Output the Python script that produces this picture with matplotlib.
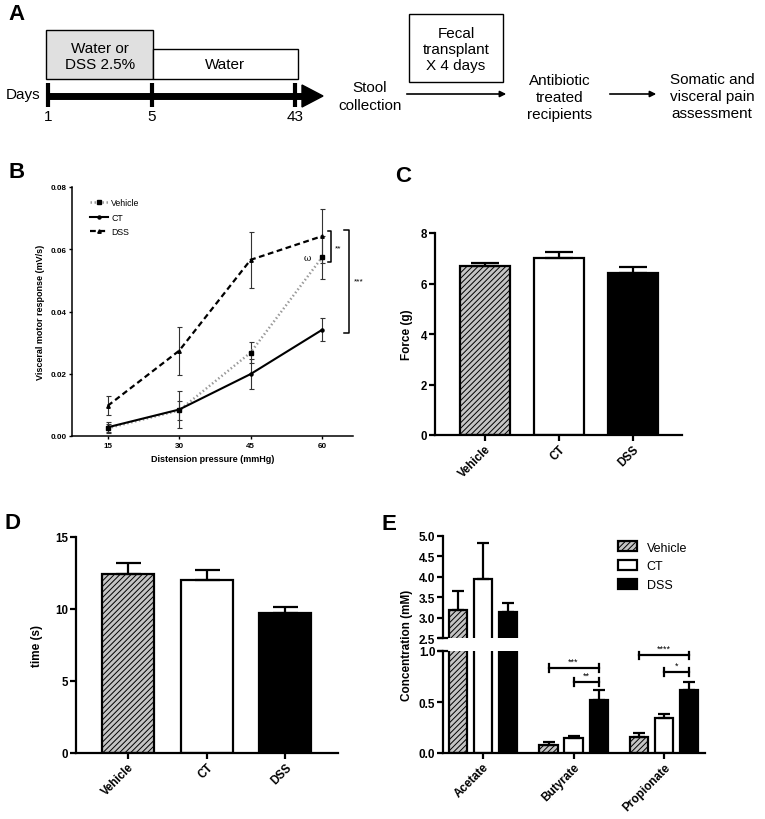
import numpy as np
import matplotlib
matplotlib.use('Agg')
import matplotlib.pyplot as plt
from matplotlib.patches import Rectangle, Polygon
from matplotlib.lines import Line2D
import matplotlib.transforms as mtransforms

plt.rcParams['font.family'] = ['Liberation Sans', 'DejaVu Sans']
plt.rcParams['hatch.linewidth'] = 0.7

# ---------------- data ----------------
pressure = [15, 30, 45, 60]
vmr_vehicle = [0.0025, 0.0082, 0.0268, 0.0574]
vmr_vehicle_sem = [0.0012, 0.0030, 0.0035, 0.0070]
vmr_ct = [0.0028, 0.0085, 0.0199, 0.0341]
vmr_ct_sem = [0.0018, 0.0060, 0.0048, 0.0037]
vmr_dss = [0.0097, 0.0274, 0.0566, 0.0642]
vmr_dss_sem = [0.0031, 0.0077, 0.0090, 0.0086]

groups = ['Vehicle', 'CT', 'DSS']
force = [6.68, 7.00, 6.42]
force_sem = [0.12, 0.26, 0.22]
time_s = [12.46, 11.98, 9.72]
time_sem = [0.76, 0.76, 0.39]

scfa = ['Acetate', 'Butyrate', 'Propionate']
conc_vehicle = [3.19, 0.079, 0.154]
conc_vehicle_sem = [0.47, 0.026, 0.043]
conc_ct = [3.94, 0.151, 0.344]
conc_ct_sem = [0.90, 0.020, 0.040]
conc_dss = [3.13, 0.520, 0.613]
conc_dss_sem = [0.24, 0.100, 0.082]

# significance annotations in E: (group, from_offset_idx, to_offset_idx, y, label)
sig_E = [(1, 0, 2, 0.833, '***'), (1, 1, 2, 0.696, '**'),
         (2, 0, 2, 0.960, '****'), (2, 1, 2, 0.794, '*')]

W, H = 765, 820
fig = plt.figure(figsize=(W / 100, H / 100), dpi=100)


def ax_px(l, t, r, b):
    return fig.add_axes([l / W, 1 - b / H, (r - l) / W, (b - t) / H])


LW = 1.6
fill_colors = ['#c4c4c4', 'white', 'black']
hatches = ['//////', None, None]


def style_axis(ax, fs):
    for s in ['top', 'right']:
        ax.spines[s].set_visible(False)
    for s in ['left', 'bottom']:
        ax.spines[s].set_linewidth(LW)
    ax.tick_params(direction='out', length=4, width=LW, labelsize=fs, pad=1.5)
    for lab in ax.get_xticklabels() + ax.get_yticklabels():
        lab.set_fontweight('bold')


# ---------------- overlay for panel A and letters ----------------
ov = fig.add_axes([0, 0, 1, 1])
ov.set_xlim(0, W)
ov.set_ylim(H, 0)
ov.axis('off')

for lab, (x, y) in {'A': (8, 14), 'B': (8, 173), 'C': (395, 176),
                    'D': (5, 524), 'E': (382, 525)}.items():
    ov.text(x, y, lab, fontsize=16, fontweight='bold', ha='left', va='center')

fsA = 11
ov.add_patch(Rectangle((46, 31), 107, 49, facecolor='#e0e0e0', edgecolor='black', lw=1))
ov.add_patch(Rectangle((153, 50), 145, 30, facecolor='white', edgecolor='black', lw=1))
ov.text(100, 57, 'Water or\nDSS 2.5%', ha='center', va='center', fontsize=fsA, linespacing=1.25)
ov.text(225, 65, 'Water', ha='center', va='center', fontsize=fsA)
ov.plot([47, 304], [97, 97], color='black', lw=5, solid_capstyle='butt')
ov.add_patch(Polygon([(302, 86), (323, 97), (302, 108)], closed=True, facecolor='black', edgecolor='black'))
day_ticks = ['1', '5', '43']
day_x = [48, 152, 295]
for lab, x in zip(day_ticks, day_x):
    ov.plot([x, x], [84, 108], color='black', lw=3, solid_capstyle='butt')
    ov.text(x, 117, lab, ha='center', va='center', fontsize=fsA)
ov.text(40, 95, 'Days', ha='right', va='center', fontsize=fsA)
ov.text(370, 97, 'Stool\ncollection', ha='center', va='center', fontsize=fsA, linespacing=1.3)
ov.add_patch(Rectangle((409, 15), 94, 68, facecolor='white', edgecolor='black', lw=1))
ov.text(456, 50, 'Fecal\ntransplant\nX 4 days', ha='center', va='center', fontsize=fsA, linespacing=1.2)
ov.annotate('', xy=(509, 95), xytext=(404, 95),
            arrowprops=dict(arrowstyle='-|>', color='black', lw=1.2, mutation_scale=9))
ov.text(560, 98, 'Antibiotic\ntreated\nrecipients', ha='center', va='center', fontsize=fsA, linespacing=1.3)
ov.annotate('', xy=(659, 95), xytext=(607, 95),
            arrowprops=dict(arrowstyle='-|>', color='black', lw=1.2, mutation_scale=9))
ov.text(712, 97, 'Somatic and\nvisceral pain\nassessment', ha='center', va='center', fontsize=fsA, linespacing=1.3)

# ---------------- panel B ----------------
axB = ax_px(72, 188, 353, 437)
ekw = dict(capsize=1.8, elinewidth=0.8, capthick=0.8, ecolor='#333333')
axB.errorbar(pressure, vmr_dss, yerr=vmr_dss_sem, color='black', lw=1.6,
             ls=(0, (2.6, 1.6)), marker='^', ms=2.5, **ekw)
axB.errorbar(pressure, vmr_vehicle, yerr=vmr_vehicle_sem, color='#9a9a9a', lw=1.8,
             ls=(0, (0.6, 1.0)), marker='s', ms=3.2, mfc='black', mec='black', **ekw)
axB.errorbar(pressure, vmr_ct, yerr=vmr_ct_sem, color='black', lw=1.5,
             ls='-', marker='o', ms=2.2, **ekw)
axB.set_xlim(7.5, 66.5)
axB.set_ylim(0, 0.08)
axB.set_xticks(pressure)
axB.set_yticks([0, 0.02, 0.04, 0.06, 0.08])
axB.set_yticklabels(['0.00', '0.02', '0.04', '0.06', '0.08'])
for s in ['top', 'right']:
    axB.spines[s].set_visible(False)
for s in ['left', 'bottom']:
    axB.spines[s].set_linewidth(1.1)
axB.tick_params(direction='out', length=2.5, width=1, labelsize=5.8, pad=1.5)
for lab in axB.get_xticklabels() + axB.get_yticklabels():
    lab.set_fontweight('bold')
axB.set_ylabel('Visceral motor response (mV/s)', fontsize=6.5, fontweight='bold', labelpad=4)
axB.set_xlabel('Distension pressure (mmHg)', fontsize=6.5, fontweight='bold', labelpad=4)
# brackets
for (x0, x1, y0, y1) in [(61.2, 61.9, 0.0558, 0.0660), (64.6, 65.6, 0.0330, 0.0662)]:
    axB.plot([x0, x1, x1, x0], [y0, y0, y1, y1], color='black', lw=1.1, clip_on=False)
axB.text(62.6, 0.0605, '**', fontsize=6, ha='left', va='center', clip_on=False)
axB.text(66.6, 0.0497, '***', fontsize=6, ha='left', va='center', clip_on=False)
axB.text(57.6, 0.0573, 'ω', fontsize=6.5, family='DejaVu Serif', ha='right', va='center')
hB = [Line2D([], [], color='#9a9a9a', lw=1.8, ls=(0, (0.6, 1.0)), marker='s', ms=3.2, mfc='black', mec='black'),
      Line2D([], [], color='black', lw=1.5, marker='o', ms=2.2),
      Line2D([], [], color='black', lw=1.6, ls=(0, (2.6, 1.6)), marker='^', ms=2.5)]
fig.legend(hB, groups, loc='upper left', bbox_to_anchor=(90 / W, 1 - 199 / H), frameon=False,
           fontsize=6.3, handlelength=2.0, labelspacing=0.65, handletextpad=0.4, borderpad=0, borderaxespad=0)

# ---------------- bar panels C, D ----------------
def bar_panel(ax, vals, sems, width, capsize, fs):
    x = np.arange(len(vals))
    for i in range(len(vals)):
        ax.bar(x[i], vals[i], width=width, color=fill_colors[i], edgecolor='black',
               lw=LW, hatch=hatches[i], zorder=2)
    ax.errorbar(x, vals, yerr=[np.zeros(len(vals)), sems], fmt='none', ecolor='black',
                elinewidth=LW, capsize=capsize, capthick=LW, zorder=3)
    ax.set_xticks(x)
    ax.set_xticklabels(groups, rotation=45, ha='right', va='top', rotation_mode='anchor')
    style_axis(ax, fs)


axC = ax_px(435, 234, 682, 436)
bar_panel(axC, force, force_sem, 0.68, 10, 8.3)
axC.set_xlim(-0.676, 2.66)
axC.set_ylim(0, 8)
axC.set_yticks([0, 2, 4, 6, 8])
for lab in axC.get_yticklabels():
    lab.set_fontweight('bold')
axC.set_ylabel('Force (g)', fontsize=8.5, fontweight='bold', labelpad=6)

axD = ax_px(76, 538, 338, 754)
bar_panel(axD, time_s, time_sem, 0.66, 9, 8.3)
axD.set_xlim(-0.66, 2.667)
axD.set_ylim(0, 15)
axD.set_yticks([0, 5, 10, 15])
for lab in axD.get_yticklabels():
    lab.set_fontweight('bold')
axD.set_ylabel('time (s)', fontsize=8.5, fontweight='bold', labelpad=9)

# ---------------- panel E ----------------
axEu = ax_px(443, 537, 705, 639)
axEl = ax_px(443, 652, 705, 754)
offs = [-0.276, 0.0, 0.276]
bw = 0.2
xg = np.arange(len(scfa))
series = [(conc_vehicle, conc_vehicle_sem), (conc_ct, conc_ct_sem), (conc_dss, conc_dss_sem)]
bars_for_legend = []
for ax in (axEu, axEl):
    for i, (vals, sems) in enumerate(series):
        b = ax.bar(xg + offs[i], vals, width=bw, color=fill_colors[i], edgecolor='black',
                   lw=LW, hatch=hatches[i], zorder=2)
        if ax is axEl:
            bars_for_legend.append(b)
        ax.errorbar(xg + offs[i], vals, yerr=[np.zeros(len(vals)), sems], fmt='none',
                    ecolor='black', elinewidth=LW, capsize=4.5, capthick=LW, zorder=3)
    ax.set_xlim(-0.44, 2.45)

axEu.set_ylim(2.5, 5.0)
axEu.set_yticks(np.arange(2.5, 5.01, 0.5))
axEu.set_yticklabels(['2.5', '3.0', '3.5', '4.0', '4.5', '5.0'])
axEu.set_xticks([])
style_axis(axEu, 8.5)
axEu.spines['bottom'].set_visible(False)

axEl.set_ylim(0, 1.0)
axEl.set_yticks([0, 0.5, 1.0])
axEl.set_yticklabels(['0.0', '0.5', '1.0'])
axEl.set_xticks(xg)
axEl.set_xticklabels(scfa, rotation=45, ha='right', va='top', rotation_mode='anchor')
style_axis(axEl, 8.5)

# break caps
for ax, yv in ((axEu, 2.5), (axEl, 1.0)):
    tr = mtransforms.blended_transform_factory(ax.transAxes, ax.transData)
    ax.plot([-0.017, 0.017], [yv, yv], transform=tr, color='black', lw=LW, clip_on=False)

for (g, i0, i1, y, lab) in sig_E:
    x0, x1 = g + offs[i0], g + offs[i1]
    axEl.plot([x0, x1], [y, y], color='black', lw=LW, clip_on=False, zorder=4)
    for xx in (x0, x1):
        axEl.plot([xx, xx], [y - 0.035, y + 0.035], color='black', lw=LW, clip_on=False, zorder=4)
    axEl.text((x0 + x1) / 2, y + 0.02, lab, ha='center', va='bottom', fontsize=6.5, clip_on=False)

fig.text(407 / W, 1 - 645 / H, 'Concentration (mM)', rotation=90, ha='center', va='center',
         fontsize=8.5, fontweight='bold')
fig.legend([b[0] for b in bars_for_legend], groups, loc='upper left',
           bbox_to_anchor=(618 / W, 1 - 542 / H), frameon=False, fontsize=9,
           handlelength=1.5, handleheight=0.9, labelspacing=0.5, handletextpad=0.8,
           borderpad=0, borderaxespad=0)

fig.savefig('out.png', dpi=100)
